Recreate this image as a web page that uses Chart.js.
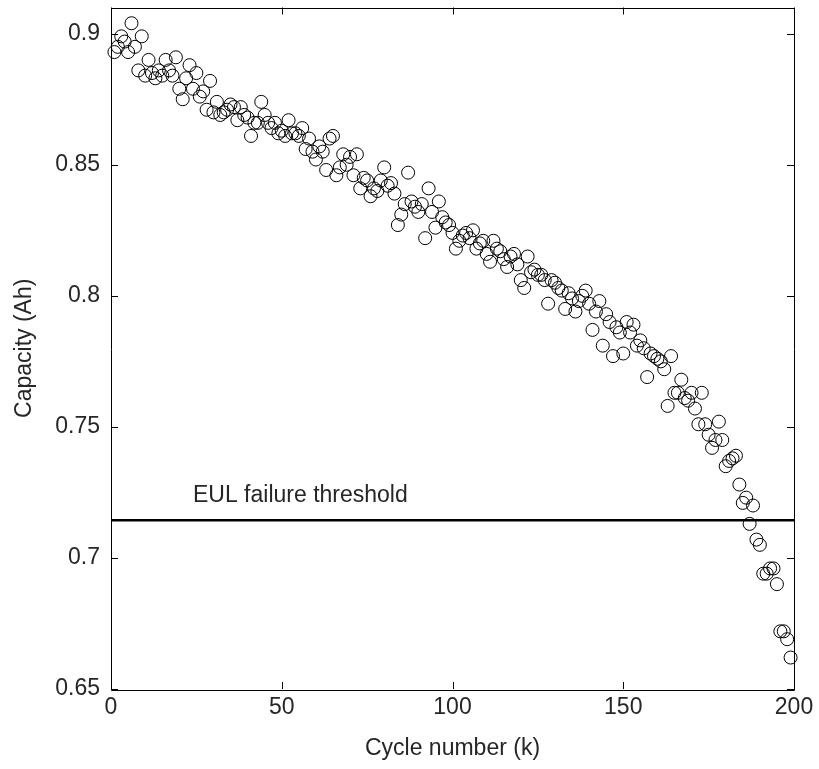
<!DOCTYPE html>
<html><head><meta charset="utf-8">
<script src="https://cdn.jsdelivr.net/npm/chart.js@4/dist/chart.umd.min.js"></script>
<style>html,body{margin:0;padding:0;background:#fff}canvas{display:block}</style>
</head><body>
<canvas id="c" width="819" height="769"></canvas>
<script>
const cycles = [
1,2,3,4,5,6,7,8,9,10,11,12,13,14,15,16,17,18,19,20,
21,22,23,24,25,26,27,28,29,30,31,32,33,34,35,36,37,38,39,40,
41,42,43,44,45,46,47,48,49,50,51,52,53,54,55,56,57,58,59,60,
61,62,63,64,65,66,67,68,69,70,71,72,73,74,75,76,77,78,79,80,
81,82,83,84,85,86,87,88,89,90,91,92,93,94,95,96,97,98,99,100,
101,102,103,104,105,106,107,108,109,110,111,112,113,114,115,116,117,118,119,120,
121,122,123,124,125,126,127,128,129,130,131,132,133,134,135,136,137,138,139,140,
141,142,143,144,145,146,147,148,149,150,151,152,153,154,155,156,157,158,159,160,
161,162,163,164,165,166,167,168,169,170,171,172,173,174,175,176,177,178,179,180,
181,182,183,184,185,186,187,188,189,190,191,192,193,194,195,196,197,198,199];
const capacity = [
0.893,0.895,0.899,0.897,0.893,0.904,0.895,0.886,0.899,0.884,0.890,0.885,0.883,0.886,0.884,0.890,0.886,0.884,0.891,0.879,
0.875,0.883,0.888,0.879,0.885,0.876,0.878,0.871,0.882,0.870,0.874,0.869,0.870,0.871,0.873,0.872,0.867,0.872,0.869,0.868,
0.861,0.866,0.866,0.874,0.869,0.866,0.864,0.866,0.862,0.863,0.861,0.867,0.862,0.862,0.861,0.864,0.856,0.860,0.855,0.852,
0.857,0.855,0.848,0.860,0.861,0.846,0.849,0.854,0.850,0.853,0.846,0.854,0.841,0.845,0.844,0.838,0.841,0.840,0.844,0.849,
0.842,0.843,0.839,0.827,0.831,0.835,0.847,0.836,0.834,0.832,0.835,0.822,0.841,0.832,0.826,0.836,0.830,0.828,0.827,0.824,
0.818,0.821,0.823,0.824,0.822,0.825,0.818,0.820,0.821,0.816,0.813,0.821,0.818,0.817,0.814,0.811,0.815,0.816,0.812,0.806,
0.803,0.815,0.809,0.810,0.808,0.808,0.806,0.797,0.806,0.805,0.803,0.802,0.795,0.801,0.799,0.794,0.798,0.800,0.802,0.797,
0.787,0.794,0.798,0.781,0.793,0.790,0.777,0.788,0.786,0.778,0.790,0.786,0.789,0.781,0.783,0.780,0.769,0.778,0.777,0.776,
0.775,0.772,0.758,0.777,0.763,0.763,0.768,0.761,0.760,0.763,0.757,0.751,0.763,0.751,0.747,0.742,0.745,0.752,0.745,0.735,
0.737,0.738,0.739,0.728,0.721,0.723,0.713,0.720,0.707,0.705,0.694,0.694,0.696,0.696,0.690,0.672,0.672,0.669,0.662];
const thresholdCycles = [0, 200];
const thresholdCapacity = [0.7144, 0.7144];
const thresholdLabel = 'EUL failure threshold';
const xTicks = [0, 50, 100, 150, 200];
const yTicks = [0.65, 0.7, 0.75, 0.8, 0.85, 0.9];
const xTitle = 'Cycle number (k)';
const yTitle = 'Capacity (Ah)';

const FONT = 'Arial, "Liberation Sans", Helvetica, sans-serif';
const TEXT = '#262626';
const FS = 23;

const boxPlugin = {
  id: 'box',
  afterDatasetsDraw(chart) {
    const {ctx, chartArea: a, scales: {x, y}} = chart;
    ctx.save();
    ctx.strokeStyle = '#000';
    ctx.lineWidth = 1;
    ctx.beginPath();
    ctx.rect(Math.round(a.left) + 0.5, Math.round(a.top) + 0.5, Math.round(a.right - a.left), Math.round(a.bottom - a.top));
    ctx.stroke();
    const L = 7;
    ctx.beginPath();
    x.ticks.forEach(t => {
      const px = Math.round(x.getPixelForValue(t.value)) + 0.5;
      ctx.moveTo(px, a.bottom); ctx.lineTo(px, a.bottom - L);
      ctx.moveTo(px, a.top); ctx.lineTo(px, a.top + L);
    });
    y.ticks.forEach(t => {
      const py = Math.round(y.getPixelForValue(t.value)) + 0.5;
      ctx.moveTo(a.left, py); ctx.lineTo(a.left + L, py);
      ctx.moveTo(a.right, py); ctx.lineTo(a.right - L, py);
    });
    ctx.stroke();
    ctx.fillStyle = TEXT;
    ctx.font = FS + 'px ' + FONT;
    ctx.textBaseline = 'middle';
    ctx.textAlign = 'left';
    ctx.fillText(thresholdLabel, x.getPixelForValue(24), y.getPixelForValue(0.7236));
    ctx.restore();
  }
};

new Chart(document.getElementById('c'), {
  type: 'scatter',
  data: {
    datasets: [
      {
        data: cycles.map((c, i) => ({x: c, y: capacity[i]})),
        pointStyle: 'circle',
        pointRadius: 6.5,
        pointBorderWidth: 1,
        borderColor: '#000',
        backgroundColor: 'rgba(0,0,0,0)',
        showLine: false,
        clip: false,
        order: 2
      },
      {
        data: thresholdCycles.map((c, i) => ({x: c, y: thresholdCapacity[i]})),
        showLine: true,
        borderColor: '#000',
        borderWidth: 2.5,
        pointRadius: 0,
        order: 1
      }
    ]
  },
  options: {
    responsive: false,
    animation: false,
    devicePixelRatio: 1,
    layout: {padding: {top: 7, right: 25, left: 0, bottom: 0}},
    plugins: {legend: {display: false}, tooltip: {enabled: false}},
    scales: {
      x: {
        type: 'linear', min: 0, max: 200,
        grid: {display: false, drawTicks: false},
        border: {display: false},
        afterBuildTicks: s => { s.ticks = xTicks.map(v => ({value: v})); },
        afterFit: s => { s.height = 80; s.paddingLeft = 0; s.paddingRight = 0; },
        ticks: {color: TEXT, font: {family: FONT, size: FS}, padding: 5, maxRotation: 0,
                callback: v => String(v)},
        title: {display: true, text: xTitle, color: TEXT, font: {family: FONT, size: FS}, padding: {top: 0, bottom: 7}}
      },
      y: {
        type: 'linear', min: 0.65, max: 0.91,
        grid: {display: false, drawTicks: false},
        border: {display: false},
        afterBuildTicks: s => { s.ticks = yTicks.map(v => ({value: v})); },
        afterFit: s => { s.width = 111; s.paddingTop = 0; s.paddingBottom = 0; },
        ticks: {color: TEXT, font: {family: FONT, size: FS}, padding: 11,
                callback: v => String(parseFloat(v.toFixed(2)))},
        title: {display: true, text: yTitle, color: TEXT, font: {family: FONT, size: FS}, padding: {top: 11, bottom: 0}}
      }
    }
  },
  plugins: [boxPlugin]
});
</script>
</body></html>
